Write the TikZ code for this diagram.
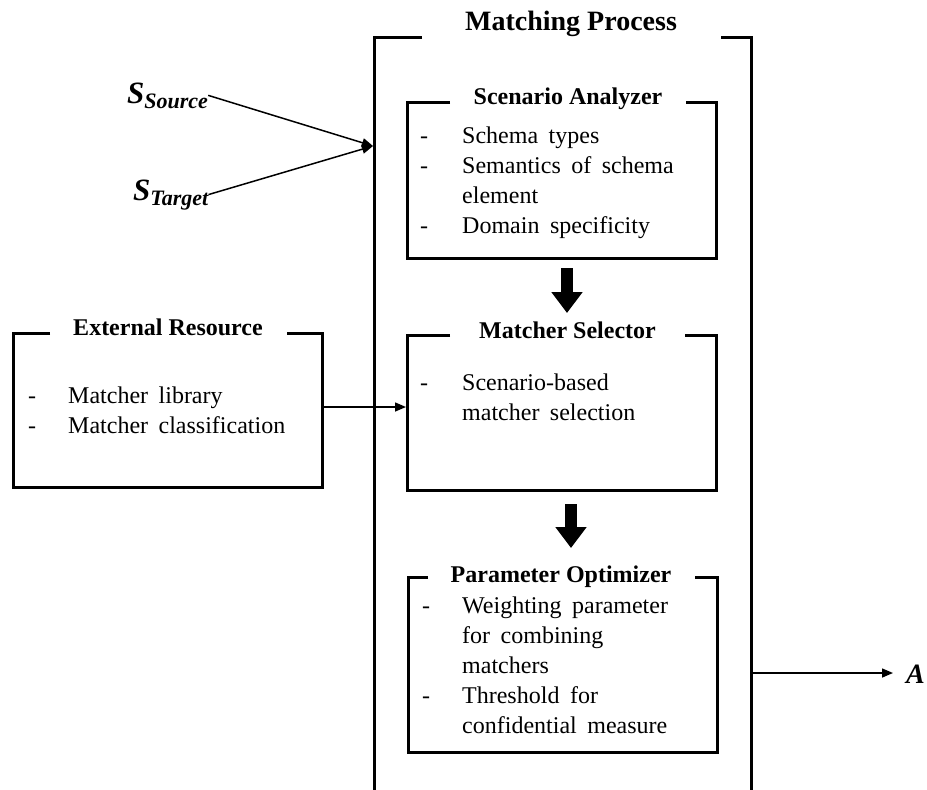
\documentclass[tikz,border=0pt]{standalone}
\usepackage{fontspec}
\setmainfont{Liberation Serif}
\usepackage{tikz}
\usetikzlibrary{positioning}
\usetikzlibrary{arrows.meta}
\pgfdeclarelayer{nodelayer}
\pgfdeclarelayer{edgelayer}
\pgfsetlayers{nodelayer,edgelayer,main}
\newcommand{\wordgap}{\spaceskip 10.5pt\relax}
\tikzset{
    none/.style = {inner sep=0pt},
    heading/.style = {inner sep=0pt, anchor=base, font=\fontsize{24}{30}\selectfont\bfseries},
    items/.style = {inner sep=0pt, anchor=base west, font=\fontsize{24}{30}\selectfont\wordgap},
    frame/.style = {line width=3pt, line join=miter},
    block/.style = {line width=12pt, -{Triangle[width=30pt, length=21pt]}},
    thin/.style = {line width=1.5pt, -{Triangle[width=9pt, length=11pt]}}
}

\begin{document}
\begin{tikzpicture}[x=1pt, y=-1pt]
    \useasboundingbox (0,0) rectangle (927,790);
    \begin{pgfonlayer}{nodelayer}
        % matching process frame (open at the bottom)
        \node [style=none] (0) at (422, 37) {};
        \node [style=none] (1) at (374, 37) {};
        \node [style=none] (2) at (374, 790) {};
        \node [style=none] (3) at (751, 790) {};
        \node [style=none] (4) at (751, 37) {};
        \node [style=none] (5) at (721, 37) {};
        % scenario analyzer
        \node [style=none] (6) at (450, 102) {};
        \node [style=none] (7) at (407, 102) {};
        \node [style=none] (8) at (407, 258) {};
        \node [style=none] (9) at (716, 258) {};
        \node [style=none] (10) at (716, 102) {};
        \node [style=none] (11) at (686, 102) {};
        % matcher selector
        \node [style=none] (12) at (450, 335) {};
        \node [style=none] (13) at (407, 335) {};
        \node [style=none] (14) at (407, 490) {};
        \node [style=none] (15) at (716, 490) {};
        \node [style=none] (16) at (716, 335) {};
        \node [style=none] (17) at (685, 335) {};
        % parameter optimizer
        \node [style=none] (18) at (428, 577) {};
        \node [style=none] (19) at (408, 577) {};
        \node [style=none] (20) at (408, 752) {};
        \node [style=none] (21) at (717, 752) {};
        \node [style=none] (22) at (717, 577) {};
        \node [style=none] (23) at (695, 577) {};
        % external resource
        \node [style=none] (24) at (50, 333) {};
        \node [style=none] (25) at (13, 333) {};
        \node [style=none] (26) at (13, 487) {};
        \node [style=none] (27) at (322, 487) {};
        \node [style=none] (28) at (322, 333) {};
        \node [style=none] (29) at (287, 333) {};
        % block arrows
        \node [style=none] (30) at (567, 268) {};
        \node [style=none] (31) at (567, 313) {};
        \node [style=none] (32) at (571, 504) {};
        \node [style=none] (33) at (571, 548) {};
        % inputs and output
        \node [style=none, anchor=base west] (34) at (127, 103) {\fontsize{31}{31}\selectfont\bfseries\itshape S\raisebox{-5pt}{\fontsize{22}{22}\selectfont Source}};
        \node [style=none, anchor=base west] (35) at (133, 200) {\fontsize{31}{31}\selectfont\bfseries\itshape S\raisebox{-5pt}{\fontsize{22}{22}\selectfont Target}};
        \node [style=none] (36) at (373, 146) {};
        \node [style=none] (37) at (322, 407) {};
        \node [style=none] (38) at (406, 407) {};
        \node [style=none] (39) at (751, 673) {};
        \node [style=none] (40) at (893, 673) {};
        \node [style=none, anchor=base west] (41) at (906, 683) {\fontsize{28}{28}\selectfont\bfseries\itshape A};
        % titles
        \node [style=heading, font=\fontsize{28}{30}\selectfont\bfseries] (42) at (571, 30) {Matching Process};
        \node [style=heading] (43) at (568, 104) {Scenario Analyzer};
        \node [style=heading] (44) at (567.5, 338) {Matcher Selector};
        \node [style=heading] (45) at (561, 582) {Parameter Optimizer};
        \node [style=heading] (46) at (168, 335) {External Resource};
        % item lists
        \node [style=items] (47) at (420, 143) {\begin{tabular}[t]{@{}p{42pt}@{}l@{}}
            - & Schema types\\
            - & Semantics of schema\\
              & element\\
            - & Domain specificity
        \end{tabular}};
        \node [style=items] (48) at (420, 390) {\begin{tabular}[t]{@{}p{42pt}@{}l@{}}
            - & Scenario-based\\
              & matcher selection
        \end{tabular}};
        \node [style=items] (49) at (422, 613) {\begin{tabular}[t]{@{}p{40pt}@{}l@{}}
            - & Weighting parameter\\
              & for combining\\
              & matchers\\
            - & Threshold for\\
              & confidential measure
        \end{tabular}};
        \node [style=items] (50) at (28, 403) {\begin{tabular}[t]{@{}p{40pt}@{}l@{}}
            - & Matcher library\\
            - & Matcher classification
        \end{tabular}};
    \end{pgfonlayer}
    \begin{pgfonlayer}{edgelayer}
        \draw [style=frame] (0.center) to (1.center) to (2.center);
        \draw [style=frame] (3.center) to (4.center) to (5.center);
        \draw [style=frame] (6.center) to (7.center) to (8.center) to (9.center) to (10.center) to (11.center);
        \draw [style=frame] (12.center) to (13.center) to (14.center) to (15.center) to (16.center) to (17.center);
        \draw [style=frame] (18.center) to (19.center) to (20.center) to (21.center) to (22.center) to (23.center);
        \draw [style=frame] (24.center) to (25.center) to (26.center) to (27.center) to (28.center) to (29.center);
        \draw [style=block] (30.center) to (31.center);
        \draw [style=block] (32.center) to (33.center);
        \draw [style=thin] (34.east) to (36.center);
        \draw [style=thin] (35.east) to (36.center);
        \draw [style=thin] (37.center) to (38.center);
        \draw [style=thin] (39.center) to (40.center);
    \end{pgfonlayer}
\end{tikzpicture}
\end{document}
